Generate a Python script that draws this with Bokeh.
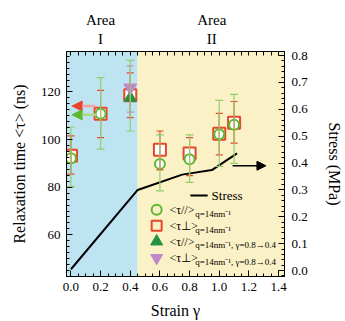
from bokeh.plotting import figure
from bokeh.models import (Range1d, LinearAxis, SingleIntervalTicker, FixedTicker, BoxAnnotation, Whisker,
                          TeeHead, ColumnDataSource, Arrow, NormalHead, NumeralTickFormatter)
from bokeh.core.properties import value
from bokeh.embed import file_html
from bokeh.resources import INLINE

FONT = "Liberation Serif, Times New Roman, serif"

# ---------------- data ----------------
area_boundary = 0.45
area_x = [0.2, 0.95]
area_top = ["Area", "Area"]
area_num = ["I", "II"]

strain_par = [0.0, 0.2, 0.6, 0.8, 1.0, 1.1]
tau_par = [92.2, 110.9, 89.8, 91.7, 102.2, 106.2]
tau_par_lo = [80.3, 96.0, 78.5, 82.0, 88.7, 90.0]
tau_par_hi = [105.3, 126.0, 102.0, 102.0, 116.5, 119.0]

strain_perp = [0.0, 0.2, 0.4, 0.6, 0.8, 1.0, 1.1]
tau_perp = [93.2, 110.9, 118.6, 95.7, 94.2, 102.5, 107.1]
tau_perp_lo = [85.5, 100.8, 109.2, 87.3, 84.9, 93.6, 98.5]
tau_perp_hi = [101.6, 120.7, 128.0, 103.6, 100.8, 111.0, 116.0]

strain_rev = [0.4]
tau_par_rev = [117.6]
tau_par_rev_lo = [103.6]
tau_par_rev_hi = [133.3]
tau_perp_rev = [121.8]
tau_perp_rev_lo = [111.5]
tau_perp_rev_hi = [131.0]

strain_stress = [0.0, 0.45, 0.75, 0.95, 1.12]
stress = [0.005, 0.30, 0.357, 0.374, 0.436]

top_minor_ticks = [i * 0.05 for i in range(0, 29)]

# arrows: (x_start, x_end, y)
arrow_red = (0.165, 0.008, 114.1)
arrow_green = (0.172, 0.008, 110.4)
arrow_black = (1.09, 1.315, 0.39)

# colors
BLUE = "#bfe4f1"
YELLOW = "#fbf1c6"
GREEN = "#5cb82e"
GREEN_BAR = "#92cf6e"
RED = "#e8452a"
DKGREEN = "#23923e"
PURPLE = "#c08ac8"

# legend entries (marker, color, main text, subscript, y)
legend_x = 0.578
legend_text_x = 0.664
legend_sub_x = 0.838
legend_sub_dy = 1.6
legend_items = [
    ("circle", GREEN, "<τ//>", "q=14nm⁻¹", 70.5),
    ("square", RED, "<τ⊥>", "q=14nm⁻¹", 63.8),
    ("triangle", DKGREEN, "<τ//>", "q=14nm⁻¹, γ=0.8→0.4", 57.2),
    ("inverted_triangle", PURPLE, "<τ⊥>", "q=14nm⁻¹, γ=0.8→0.4", 50.3),
]
stress_leg = (0.805, 0.922, 0.279)
stress_leg_text_x = 0.948

# ---------------- figure ----------------
p = figure(width=345, height=321, x_range=Range1d(-0.03, 1.44), y_range=Range1d(42.5, 137),
           output_backend="svg", toolbar_location=None,
           min_border_left=66, min_border_right=52, min_border_top=51, min_border_bottom=45)
p.grid.visible = False
p.outline_line_color = "black"
p.outline_line_width = 1
p.border_fill_color = "white"

p.extra_y_ranges = {"stress": Range1d(-0.022, 0.815)}

p.add_layout(BoxAnnotation(right=area_boundary, fill_color=BLUE, fill_alpha=1, line_alpha=0, level="image"))
p.add_layout(BoxAnnotation(left=area_boundary, fill_color=YELLOW, fill_alpha=1, line_alpha=0, level="image"))

def style_axis(ax, standoff):
    ax.major_tick_in = 6
    ax.major_tick_out = 0
    ax.minor_tick_in = 3
    ax.minor_tick_out = 0
    ax.axis_line_color = "black"
    ax.major_tick_line_color = "black"
    ax.minor_tick_line_color = "black"
    ax.major_label_text_font = FONT
    ax.major_label_text_font_size = "13px"
    ax.major_label_text_color = "black"
    ax.major_label_standoff = standoff
    ax.axis_label_text_font = FONT
    ax.axis_label_text_font_size = "16px"
    ax.axis_label_text_font_style = "normal"
    ax.axis_label_text_color = "black"

xa = p.xaxis[0]
xa.ticker = SingleIntervalTicker(interval=0.2, num_minor_ticks=4)
xa.formatter = NumeralTickFormatter(format="0.0")
xa.axis_label = "Strain γ"
style_axis(xa, 6)
xa.axis_label_standoff = 8

ya = p.yaxis[0]
ya.ticker = SingleIntervalTicker(interval=20, num_minor_ticks=8)
ya.axis_label = "Relaxation time <τ> (ns)"
style_axis(ya, 6)
ya.axis_label_standoff = 10

ra = LinearAxis(y_range_name="stress", ticker=SingleIntervalTicker(interval=0.1, num_minor_ticks=5),
                formatter=NumeralTickFormatter(format="0.0"), axis_label="Stress (MPa)")
style_axis(ra, 7)
ra.axis_label_standoff = 15
p.add_layout(ra, "right")

# top axis: mirrored ticks + "I"/"II"
ta = LinearAxis(ticker=FixedTicker(ticks=area_x, minor_ticks=top_minor_ticks),
                major_label_overrides={area_x[0]: area_num[0], area_x[1]: area_num[1]})
style_axis(ta, 5)
ta.major_tick_in = 0
ta.minor_tick_in = 4
ta.major_label_text_font_size = "15px"
p.add_layout(ta, "above")

# top axis 2: "Area"
ta2 = LinearAxis(ticker=FixedTicker(ticks=area_x),
                 major_label_overrides={area_x[0]: area_top[0], area_x[1]: area_top[1]})
style_axis(ta2, 0)
ta2.major_tick_in = 0
ta2.minor_tick_in = 0
ta2.axis_line_alpha = 0
ta2.major_label_text_font_size = "15px"
p.add_layout(ta2, "above")

# stress line
p.line(strain_stress, stress, y_range_name="stress", line_color="black", line_width=2)

# error bars
def whisker(xs, lo, hi, color, cap):
    src = ColumnDataSource(dict(x=xs, lo=lo, hi=hi))
    w = Whisker(base="x", lower="lo", upper="hi", source=src, dimension="height",
                line_color=color, line_width=1.2,
                upper_head=TeeHead(size=cap, line_color=color, line_width=1.2),
                lower_head=TeeHead(size=cap, line_color=color, line_width=1.2), level="glyph")
    p.add_layout(w)

whisker(strain_perp, tau_perp_lo, tau_perp_hi, RED, 7)
whisker(strain_rev, tau_perp_rev_lo, tau_perp_rev_hi, PURPLE, 7)
whisker(strain_par, tau_par_lo, tau_par_hi, GREEN_BAR, 8)
whisker(strain_rev, tau_par_rev_lo, tau_par_rev_hi, GREEN_BAR, 8)

# markers
p.scatter(strain_perp, tau_perp, marker="square", size=12, line_color=RED, line_width=2, fill_color="white")
p.scatter(strain_par, tau_par, marker="circle", size=10, line_color=GREEN, line_width=2, fill_color="white")
p.scatter(strain_rev, tau_par_rev, marker="triangle", size=12, line_color=DKGREEN, fill_color=DKGREEN)
p.scatter(strain_rev, tau_perp_rev, marker="inverted_triangle", size=13, line_color=PURPLE, fill_color=PURPLE)

# arrows
p.add_layout(Arrow(x_start=arrow_red[0], x_end=arrow_red[1], y_start=arrow_red[2], y_end=arrow_red[2],
                   line_color="#f2a3a0", line_width=2.5,
                   end=NormalHead(size=10, fill_color=RED, line_color=RED)))
p.add_layout(Arrow(x_start=arrow_green[0], x_end=arrow_green[1], y_start=arrow_green[2], y_end=arrow_green[2],
                   line_color="#a9da8c", line_width=2.5,
                   end=NormalHead(size=10, fill_color=GREEN, line_color=GREEN)))
p.add_layout(Arrow(x_start=arrow_black[0], x_end=arrow_black[1], y_start=arrow_black[2], y_end=arrow_black[2],
                   y_range_name="stress", line_color="black", line_width=1.5,
                   end=NormalHead(size=9, fill_color="black", line_color="black")))

# legend
p.line([stress_leg[0], stress_leg[1]], [stress_leg[2], stress_leg[2]], y_range_name="stress",
       line_color="black", line_width=2)
p.text([stress_leg_text_x], [stress_leg[2]], text=["Stress"], y_range_name="stress",
       text_font=value(FONT), text_font_size="13px", text_baseline="middle", text_color="black")

for mk, col, main, sub, yy in legend_items:
    filled = mk in ("triangle", "inverted_triangle")
    p.scatter([legend_x], [yy], marker=mk, size=12 if filled else 10, line_color=col,
              line_width=1 if filled else 2, fill_color=col if filled else None)
    p.text([legend_text_x], [yy], text=[main], text_font=value(FONT), text_font_size="12px",
           text_baseline="middle", text_color="black")
    p.text([legend_sub_x], [yy - legend_sub_dy], text=[sub], text_font=value(FONT), text_font_size="9px",
           text_baseline="middle", text_color="black")

open("out.html", "w").write(file_html(p, INLINE))
